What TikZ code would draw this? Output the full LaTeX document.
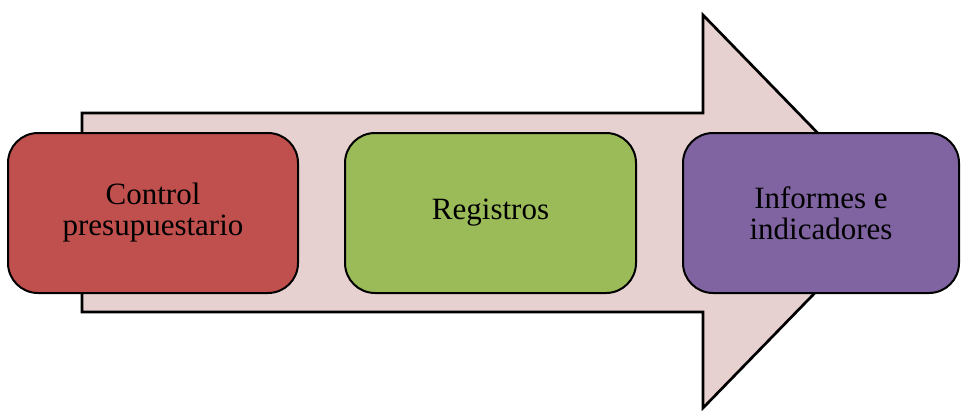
\documentclass[tikz,border=0pt]{standalone}
\usepackage{fontspec}
\setmainfont{Liberation Serif}
\usetikzlibrary{positioning}
\definecolor{arrowpink}{RGB}{231,208,208}
\definecolor{boxred}{RGB}{192,80,77}
\definecolor{boxgreen}{RGB}{155,187,89}
\definecolor{boxpurple}{RGB}{128,100,162}
\tikzset{
  stage/.style={draw=black,line width=2pt,rounded corners=30pt,minimum height=160pt,
    align=center,inner sep=4pt,font=\fontsize{31}{31}\selectfont},
}
\begin{document}
\begin{tikzpicture}[x=1pt,y=-1pt,node distance=45pt]
\useasboundingbox (0,0) rectangle (961,410);
% big arrow behind the stages
\coordinate (tail top) at (82,113); \coordinate (neck top) at (703,113);
\coordinate (head top) at (703,15); \coordinate (tip) at (894,211.5);
\coordinate (head bot) at (703,408); \coordinate (neck bot) at (703,312);
\coordinate (tail bot) at (82,312);
\draw[line width=2.7pt,fill=arrowpink,line join=miter]
  (tail top)--(neck top)--(head top)--(tip)--(head bot)--(neck bot)--(tail bot)--cycle;
% stages
\node[stage,fill=boxred,minimum width=290pt] (control) at (153,213) {Control\\presupuestario};
\node[stage,fill=boxgreen,minimum width=291pt,right=of control] (registros) {Registros};
\node[stage,fill=boxpurple,minimum width=276pt,right=of registros] (informes) {Informes e\\indicadores};
\end{tikzpicture}
\end{document}
